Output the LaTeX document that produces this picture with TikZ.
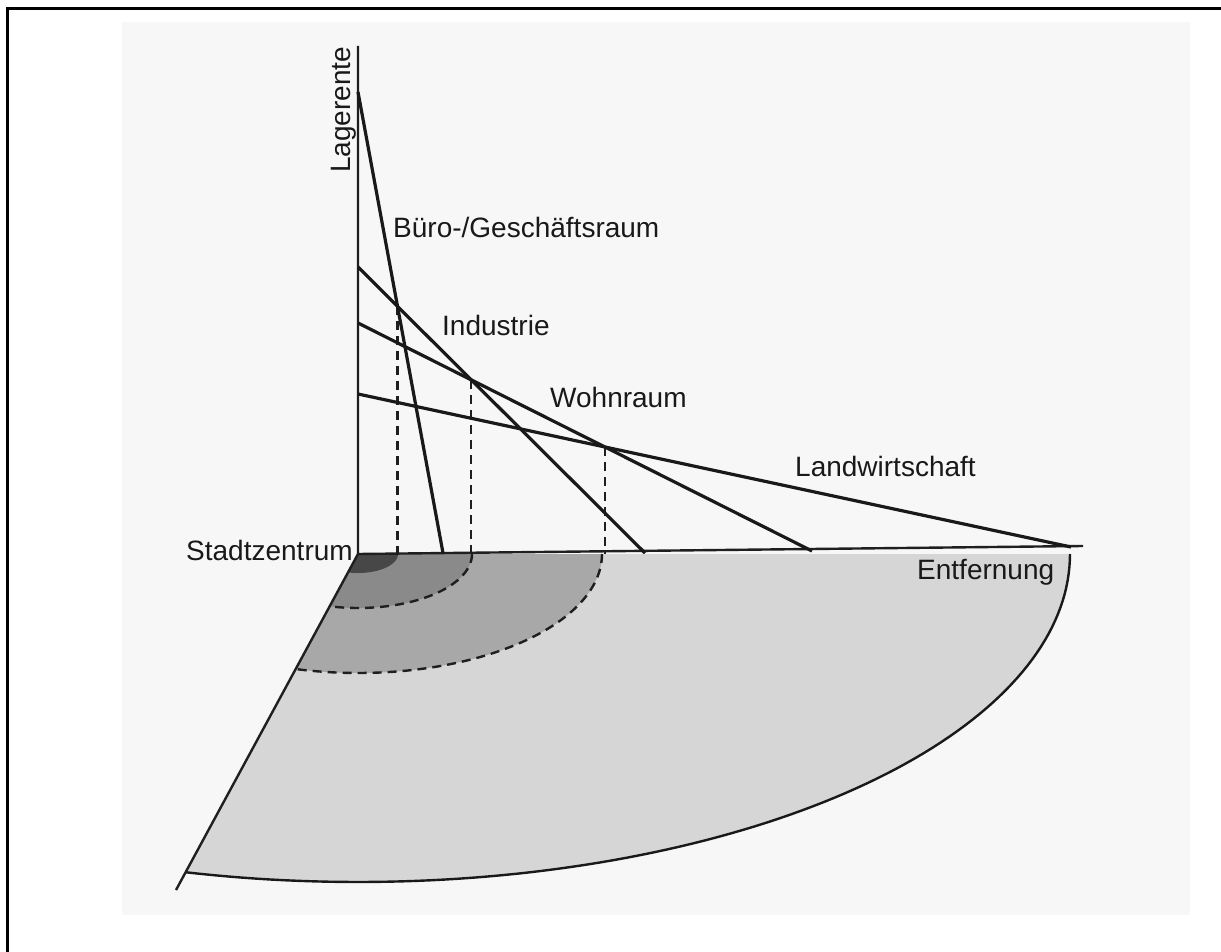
\documentclass[tikz,border=0pt]{standalone}
\usepackage{fontspec}
\setmainfont{Liberation Sans}
\begin{document}
\begin{tikzpicture}[x=1pt,y=-1pt,
  lbl/.style={text=black!90,font=\fontsize{28}{32}\selectfont,inner sep=0pt,anchor=base west},
  rent/.style={draw=black!90,line width=3.2pt},
  axis/.style={draw=black!88,line width=2.4pt},
  drop/.style={draw=black!88,line width=2.2pt,dash pattern=on 9pt off 6pt},
  ring/.style={draw=black!88,line width=2.4pt,dash pattern=on 9pt off 6pt}]
\useasboundingbox (0,0) rectangle (1221,952);
\fill[white] (0,0) rectangle (1221,952);
\fill[black!3] (122,22) rectangle (1190,915);
% frame
\draw[line width=3pt] (7,952) -- (7,9) -- (1221,9);
% coordinates
\coordinate (O) at (358,554);
\coordinate (top) at (358,46);
\coordinate (E) at (1083,546);
\coordinate (B0) at (358,92);  \coordinate (B1) at (443,553);
\coordinate (I0) at (358,267); \coordinate (I1) at (645,553);
\coordinate (W0) at (358,323); \coordinate (W1) at (812,551);
\coordinate (L0) at (358,394); \coordinate (L1) at (1071,547);
\coordinate (Ledge) at (176,890);
\coordinate (BI) at (intersection of B0--B1 and I0--I1);
\coordinate (IW) at (intersection of I0--I1 and W0--W1);
\coordinate (WL) at (intersection of W0--W1 and L0--L1);
% floor zones
\fill[black!16] (O) -- plot[domain=0:104.05,samples=90,variable=\t] ({358+712*cos(\t)},{554+328*sin(\t)}) -- cycle;
\fill[black!34] (O) -- plot[domain=0:104.83,samples=60,variable=\t] ({358+244*cos(\t)},{554+119*sin(\t)}) -- cycle;
\fill[black!46] (O) -- plot[domain=0:104.42,samples=40,variable=\t] ({358+114*cos(\t)},{554+54*sin(\t)}) -- cycle;
\fill[black!72] (O) -- plot[domain=0:104.46,samples=30,variable=\t] ({358+40*cos(\t)},{554+19*sin(\t)}) -- cycle;
\draw[ring] plot[domain=0:104.83,samples=60,variable=\t] ({358+244*cos(\t)},{554+119*sin(\t)});
\draw[ring] plot[domain=0:104.42,samples=40,variable=\t] ({358+114*cos(\t)},{554+54*sin(\t)});
\draw[draw=black!90,line width=2.4pt] plot[domain=0:104.05,samples=90,variable=\t] ({358+712*cos(\t)},{554+328*sin(\t)});
\draw[axis] (O) -- (Ledge);
% axes
\draw[axis] (top) -- (O) -- (E);
% drop lines
\draw[drop] (BI) -- (BI |- O);
\draw[drop] (IW) -- (IW |- O);
\draw[drop] (WL) -- (WL |- O);
% rent lines
\draw[rent] (B0) -- (B1);
\draw[rent] (I0) -- (I1);
\draw[rent] (W0) -- (W1);
\draw[rent] (L0) -- (L1);
% labels
\node[lbl,rotate=90] (lag) at (350,173) {Lagerente};
\node[lbl] (buero) at (393,238) {Büro-/Geschäftsraum};
\node[lbl] (ind) at (442,335) {Industrie};
\node[lbl] (wohn) at (550,407) {Wohnraum};
\node[lbl] (land) at (795,476) {Landwirtschaft};
\node[lbl] (stadt) at (186,560) {Stadtzentrum};
\node[lbl] (entf) at (917,579) {Entfernung};
\end{tikzpicture}
\end{document}
